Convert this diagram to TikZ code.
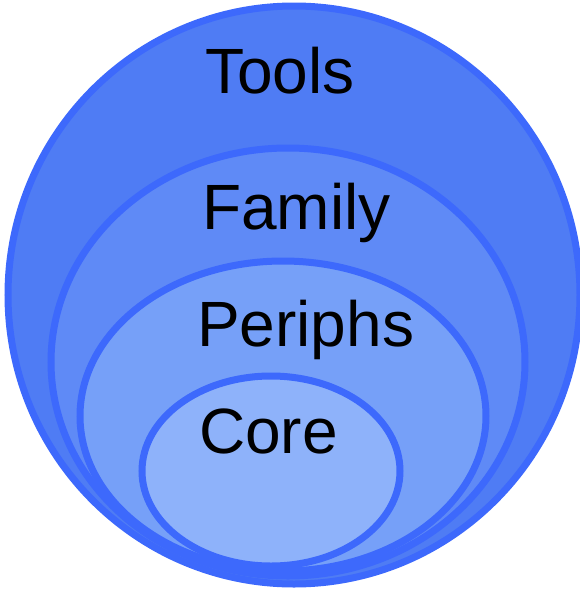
\documentclass[tikz,border=0pt]{standalone}
\usepackage{fontspec}
\setmainfont{Liberation Sans}
\begin{document}
\begin{tikzpicture}[x=1pt,y=-1pt,
  ring/.style={draw=ringline, line width=7pt},
  lbl/.style={anchor=base west, inner sep=0pt, font=\fontsize{64}{64}\selectfont, text=black}]
\definecolor{ringline}{HTML}{3D69FC}
\definecolor{toolsfill}{HTML}{4F7CF4}
\definecolor{familyfill}{HTML}{5F8AF6}
\definecolor{periphsfill}{HTML}{76A0F8}
\definecolor{corefill}{HTML}{8EB2FA}
\useasboundingbox (0,0) rectangle (580,590);
% nested layers, outermost first
\draw[ring, fill=toolsfill] (294,295) ellipse [x radius=286, y radius=289];
\draw[ring, fill=familyfill] (288,362) ellipse [x radius=237, y radius=214];
\draw[ring, fill=periphsfill] (283,416) ellipse [x radius=203, y radius=155];
\draw[ring, fill=corefill] (271,471) ellipse [x radius=129, y radius=95];
% layer names
\node[lbl] (tools) at (205,93) {Tools};
\node[lbl] (family) at (202,229) {Family};
\node[lbl] (periphs) at (197,346) {Periphs};
\node[lbl] (core) at (199,453) {Core};
\end{tikzpicture}
\end{document}
